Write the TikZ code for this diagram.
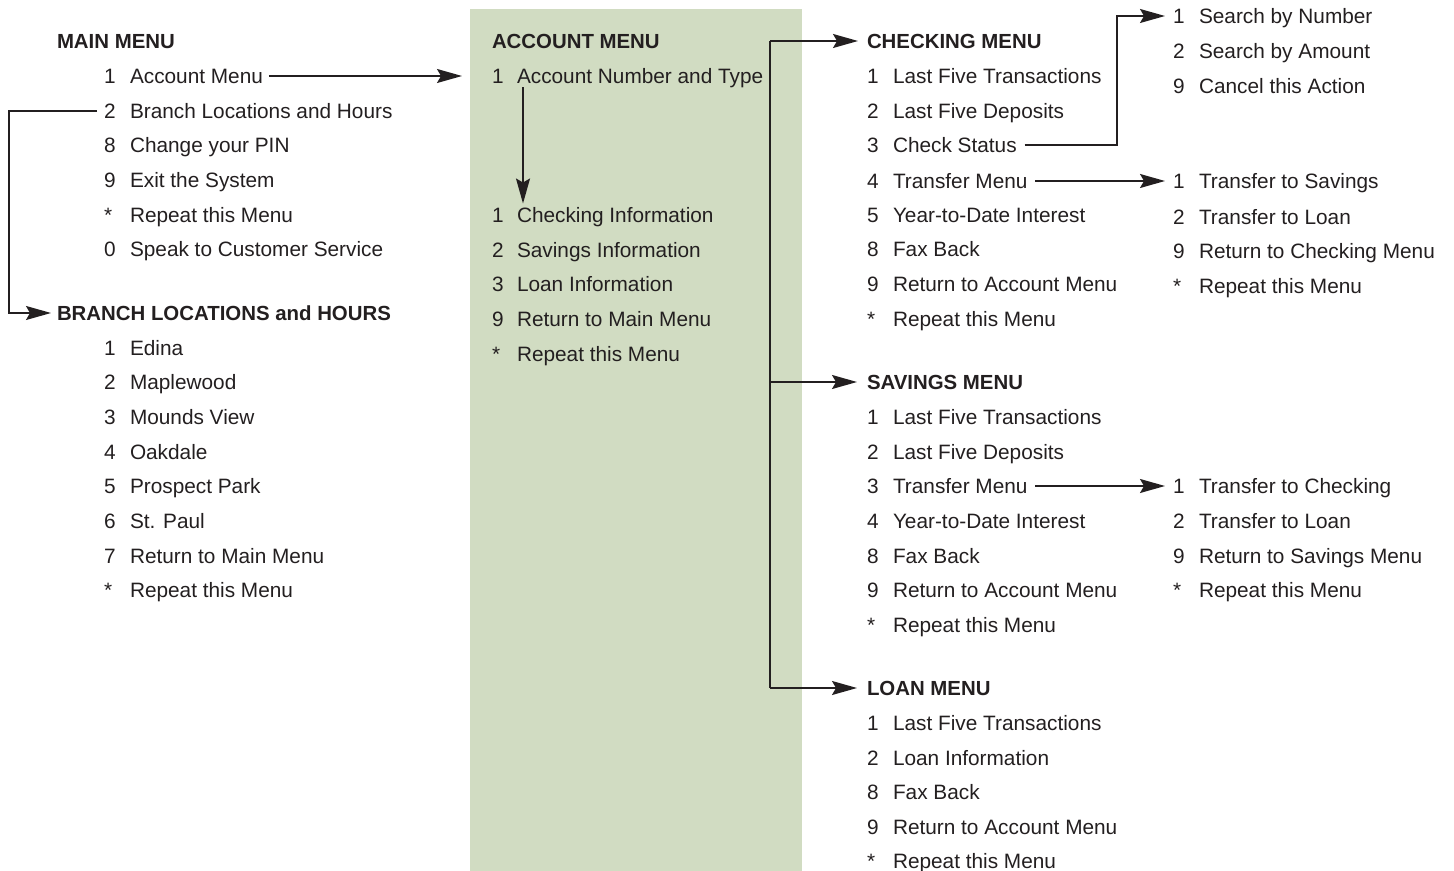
\documentclass[tikz,border=0pt]{standalone}
\usepackage{fontspec}
\setmainfont{Liberation Sans}
\usetikzlibrary{arrows.meta,calc}
\definecolor{sage}{RGB}{209,220,194}
\definecolor{ink}{RGB}{35,31,32}
\newcommand\mitem[6]{\node[itm] (#1n) at (#2,#4) {#5};\node[itm] (#1) at (#3,#4) {#6};}
\newcommand\mtitle[4]{\node[ttl] (#1) at (#2,#3) {#4};}
\begin{document}
\begin{tikzpicture}[x=0.5pt,y=-0.5pt,
  itm/.style={anchor=west,inner sep=0pt,outer sep=0pt,text height=7.5pt,text depth=0pt,font=\fontsize{10.4}{12}\selectfont,text=ink},
  ttl/.style={itm,font=\fontsize{10.2}{12}\selectfont\bfseries},
  conn/.style={draw=ink,line width=0.75pt},
  arr/.style={conn,-{Stealth[length=12.5pt,width=7pt,inset=2pt]}}]
\useasboundingbox (0,0) rectangle (1454,871);
\fill[sage] (470,9) rectangle (802,871);

% MAIN MENU
\mtitle{mt}{57}{41}{MAIN MENU}
\mitem{m1}{104}{130}{76}{1}{Account Menu}
\mitem{m2}{104}{130}{111}{2}{Branch Locations and Hours}
\mitem{m3}{104}{130}{145}{8}{Change your PIN}
\mitem{m4}{104}{130}{180}{9}{Exit the System}
\mitem{m5}{104}{130}{215}{*}{Repeat this Menu}
\mitem{m6}{104}{130}{249}{0}{Speak to Customer Service}

% BRANCH
\mtitle{bt}{57}{313}{BRANCH LOCATIONS and HOURS}
\mitem{b1}{104}{130}{348}{1}{Edina}
\mitem{b2}{104}{130}{382}{2}{Maplewood}
\mitem{b3}{104}{130}{417}{3}{Mounds View}
\mitem{b4}{104}{130}{452}{4}{Oakdale}
\mitem{b5}{104}{130}{486}{5}{Prospect Park}
\mitem{b6}{104}{130}{521}{6}{St. Paul}
\mitem{b7}{104}{130}{556}{7}{Return to Main Menu}
\mitem{b8}{104}{130}{590}{*}{Repeat this Menu}

% ACCOUNT
\mtitle{at}{492}{41}{ACCOUNT MENU}
\mitem{a1}{492}{517}{76}{1}{Account Number and Type}
\mitem{a2}{492}{517}{215}{1}{Checking Information}
\mitem{a3}{492}{517}{250}{2}{Savings Information}
\mitem{a4}{492}{517}{284}{3}{Loan Information}
\mitem{a5}{492}{517}{319}{9}{Return to Main Menu}
\mitem{a6}{492}{517}{354}{*}{Repeat this Menu}

% CHECKING
\mtitle{ct}{867}{41}{CHECKING MENU}
\mitem{c1}{867}{893}{76}{1}{Last Five Transactions}
\mitem{c2}{867}{893}{111}{2}{Last Five Deposits}
\mitem{c3}{867}{893}{145}{3}{Check Status}
\mitem{c4}{867}{893}{181}{4}{Transfer Menu}
\mitem{c5}{867}{893}{215}{5}{Year-to-Date Interest}
\mitem{c6}{867}{893}{249}{8}{Fax Back}
\mitem{c7}{867}{893}{284}{9}{Return to Account Menu}
\mitem{c8}{867}{893}{319}{*}{Repeat this Menu}

% SAVINGS
\mtitle{st}{867}{382}{SAVINGS MENU}
\mitem{s1}{867}{893}{417}{1}{Last Five Transactions}
\mitem{s2}{867}{893}{452}{2}{Last Five Deposits}
\mitem{s3}{867}{893}{486}{3}{Transfer Menu}
\mitem{s4}{867}{893}{521}{4}{Year-to-Date Interest}
\mitem{s5}{867}{893}{556}{8}{Fax Back}
\mitem{s6}{867}{893}{590}{9}{Return to Account Menu}
\mitem{s7}{867}{893}{625}{*}{Repeat this Menu}

% LOAN
\mtitle{lt}{867}{688}{LOAN MENU}
\mitem{l1}{867}{893}{723}{1}{Last Five Transactions}
\mitem{l2}{867}{893}{758}{2}{Loan Information}
\mitem{l3}{867}{893}{792}{8}{Fax Back}
\mitem{l4}{867}{893}{827}{9}{Return to Account Menu}
\mitem{l5}{867}{893}{861}{*}{Repeat this Menu}

% SEARCH
\mitem{q1}{1173}{1199}{16}{1}{Search by Number}
\mitem{q2}{1173}{1199}{51}{2}{Search by Amount}
\mitem{q3}{1173}{1199}{86}{9}{Cancel this Action}

% TRANSFER (checking)
\mitem{tc1}{1173}{1199}{181}{1}{Transfer to Savings}
\mitem{tc2}{1173}{1199}{217}{2}{Transfer to Loan}
\mitem{tc3}{1173}{1199}{251}{9}{Return to Checking Menu}
\mitem{tc4}{1173}{1199}{286}{*}{Repeat this Menu}

% TRANSFER (savings)
\mitem{ts1}{1173}{1199}{486}{1}{Transfer to Checking}
\mitem{ts2}{1173}{1199}{521}{2}{Transfer to Loan}
\mitem{ts3}{1173}{1199}{556}{9}{Return to Savings Menu}
\mitem{ts4}{1173}{1199}{590}{*}{Repeat this Menu}

% connectors
\draw[arr] ($(m1.east)+(6,0)$) -- ($(a1n.west)+(-30,0)$);
\draw[arr] ($(m2n.west)+(-7,0)$) -- ++(-88,0) |- ($(bt.west)+(-6,0)$);
\draw[arr] ($(a1.south west)+(6,4)$) -- ($(a2.north west)+(6,-4)$);

\coordinate (bus) at (770,41);
\draw[conn] (bus) -- (bus |- lt.west);
\draw[arr] (bus) -- ($(ct.west)+(-9,0)$);
\draw[arr] (bus |- st.west) -- ($(st.west)+(-10,0)$);
\draw[arr] (bus |- lt.west) -- ($(lt.west)+(-10,0)$);

\draw[arr] ($(c3.east)+(8,0)$) -| ($(q1n.west)+(-56,0)$) -- ($(q1n.west)+(-8,0)$);
\draw[arr] ($(c4.east)+(8,0)$) -- ($(tc1n.west)+(-8,0)$);
\draw[arr] ($(s3.east)+(8,0)$) -- ($(ts1n.west)+(-8,0)$);
\end{tikzpicture}
\end{document}
